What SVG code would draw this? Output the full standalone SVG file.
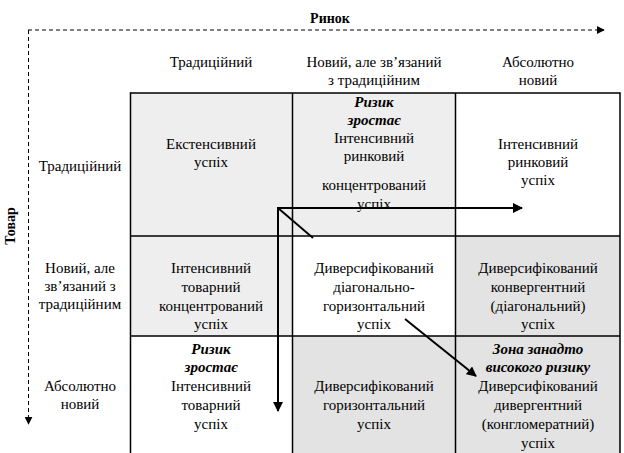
<svg xmlns="http://www.w3.org/2000/svg" width="624" height="453" viewBox="0 0 624 453">
  <style>
    .t { font-family: "Liberation Serif", "Times New Roman", "DejaVu Serif", serif; font-size: 15px; text-anchor: middle; fill: #000; }
    .bi { font-weight: bold; font-style: italic; }
    .axis { font-weight: bold; font-size: 14px; }
    .cell { stroke: #000; stroke-width: 1.5; }
    .light { fill: #eeeeee; }
    .dark { fill: #e3e3e3; }
    .white { fill: #ffffff; }
    .dash { fill: none; stroke: #000; stroke-width: 1; stroke-dasharray: 4 3; }
    .arrow { fill: none; stroke: #000; stroke-width: 2; }
  </style>
  <defs>
    <marker id="tip" viewBox="0 0 10 10" refX="9" refY="5" markerWidth="5" markerHeight="5" orient="auto" markerUnits="strokeWidth">
      <path d="M0,0 L10,5 L0,10 z" fill="#000"/>
    </marker>
    <marker id="tipSmall" viewBox="0 0 10 10" refX="9" refY="5" markerWidth="8" markerHeight="8" orient="auto" markerUnits="strokeWidth">
      <path d="M0,0 L10,5 L0,10 z" fill="#000"/>
    </marker>
  </defs>
  <rect width="624" height="453" fill="#fff"/>

  <!-- axes -->
  <g id="axes">
    <text class="t axis" x="330" y="23">Ринок</text>
    <path class="dash" d="M28,30 H604" marker-end="url(#tipSmall)"/>
    <path class="dash" d="M28.5,30 V424" marker-end="url(#tipSmall)"/>
    <text class="t axis" transform="translate(15,226) rotate(-90)">Товар</text>
  </g>

  <!-- column headers -->
  <g id="col-headers">
    <text class="t" x="211" y="67">Традиційний</text>
    <text class="t" x="374" y="67">Новий, але зв’язаний</text>
    <text class="t" x="374" y="85">з традиційним</text>
    <text class="t" x="538" y="67">Абсолютно</text>
    <text class="t" x="538" y="85">новий</text>
  </g>

  <!-- row headers -->
  <g id="row-headers">
    <text class="t" x="80" y="171">Традиційний</text>
    <text class="t" x="80" y="273">Новий, але</text>
    <text class="t" x="80" y="291">зв’язаний з</text>
    <text class="t" x="80" y="309">традиційним</text>
    <text class="t" x="80" y="391">Абсолютно</text>
    <text class="t" x="80" y="409">новий</text>
  </g>

  <!-- cell backgrounds -->
  <g id="cells-bg">
    <rect class="light" x="130.5" y="93" width="162" height="143"/>
    <rect class="light" x="292.5" y="93" width="163" height="143"/>
    <rect class="white" x="455.5" y="93" width="164.5" height="143"/>
    <rect class="light" x="130.5" y="236" width="162" height="100"/>
    <rect class="white" x="292.5" y="236" width="163" height="100"/>
    <rect class="dark" x="455.5" y="236" width="164.5" height="100"/>
    <rect class="white" x="130.5" y="336" width="162" height="117"/>
    <rect class="dark" x="292.5" y="336" width="163" height="117"/>
    <rect class="dark" x="455.5" y="336" width="164.5" height="117"/>
  </g>

  <!-- grid lines -->
  <g id="grid" class="cell">
    <path d="M130.5,93 H620 M130.5,236 H620 M130.5,336 H620"/>
    <path d="M130.5,92.25 V453 M292.5,93 V453 M455.5,93 V453 M620,92.25 V453"/>
  </g>

  <!-- cell texts -->
  <g id="cell-r1c1">
    <text class="t" x="211" y="149">Екстенсивний</text>
    <text class="t" x="211" y="167">успіх</text>
  </g>
  <g id="cell-r1c2">
    <text class="t bi" x="374" y="107">Ризик</text>
    <text class="t bi" x="374" y="125">зростає</text>
    <text class="t" x="374" y="143">Інтенсивний</text>
    <text class="t" x="374" y="161">ринковий</text>
    <text class="t" x="374" y="190">концентрований</text>
    <text class="t" x="374" y="209">успіх</text>
  </g>
  <g id="cell-r1c3">
    <text class="t" x="538" y="149">Інтенсивний</text>
    <text class="t" x="538" y="167">ринковий</text>
    <text class="t" x="538" y="185">успіх</text>
  </g>
  <g id="cell-r2c1">
    <text class="t" x="211" y="273">Інтенсивний</text>
    <text class="t" x="211" y="292">товарний</text>
    <text class="t" x="211" y="311">концентрований</text>
    <text class="t" x="211" y="329">успіх</text>
  </g>
  <g id="cell-r2c3">
    <text class="t" x="538" y="273">Диверсифікований</text>
    <text class="t" x="538" y="292">конвергентний</text>
    <text class="t" x="538" y="311">(діагональний)</text>
    <text class="t" x="538" y="329">успіх</text>
  </g>
  <g id="cell-r3c1">
    <text class="t bi" x="211" y="354">Ризик</text>
    <text class="t bi" x="211" y="372">зростає</text>
    <text class="t" x="211" y="391">Інтенсивний</text>
    <text class="t" x="211" y="410">товарний</text>
    <text class="t" x="211" y="429">успіх</text>
  </g>
  <g id="cell-r3c2">
    <text class="t" x="374" y="391">Диверсифікований</text>
    <text class="t" x="374" y="410">горизонтальний</text>
    <text class="t" x="374" y="429">успіх</text>
  </g>
  <g id="cell-r3c3">
    <text class="t bi" x="538" y="354">Зона занадто</text>
    <text class="t bi" x="538" y="372">високого ризику</text>
    <text class="t" x="538" y="391">Диверсифікований</text>
    <text class="t" x="538" y="410">дивергентний</text>
    <text class="t" x="538" y="429">(конгломератний)</text>
    <text class="t" x="538" y="448">успіх</text>
  </g>

  <!-- strategy arrows -->
  <g id="connectors">
    <path class="arrow" d="M278,208 H522" marker-end="url(#tip)"/>
    <path class="arrow" d="M278,207 V411" marker-end="url(#tip)"/>
    <path class="arrow" d="M278,208 L313,238"/>
    <path class="arrow" d="M405,319 L476,376" marker-end="url(#tip)"/>
  </g>

  <!-- centre cell text sits over the diagonal path -->
  <g id="cell-r2c2">
    <text class="t" x="374" y="273">Диверсифікований</text>
    <text class="t" x="374" y="292">діагонально-</text>
    <text class="t" x="374" y="311">горизонтальний</text>
    <text class="t" x="374" y="329">успіх</text>
  </g>
</svg>
